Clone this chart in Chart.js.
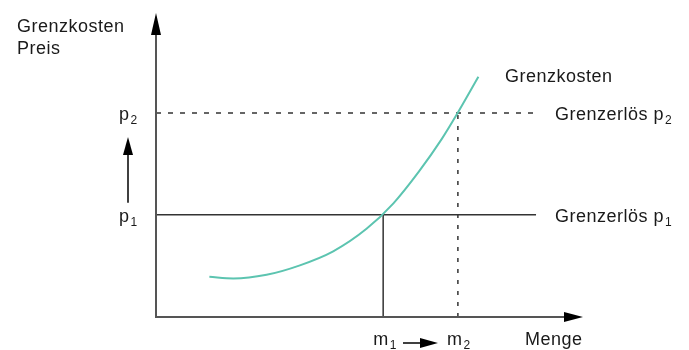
<!DOCTYPE html>
<html>
<head>
<meta charset="utf-8">
<script src="https://cdn.jsdelivr.net/npm/chart.js@4"></script>
<style>
  html, body { margin: 0; padding: 0; background: #fff; }
  #wrap { width: 689px; height: 350px; }
</style>
</head>
<body>
<div id="wrap"><canvas id="chart"></canvas></div>
<script>
// curve points (x = Menge, y = Preis, both 0..100)
const curveX = [12.5, 18.1, 25.9, 33.7, 41.5, 49.3, 55.6, 61.6, 66.9, 70.6, 75.5]
const curveY = [13.2, 12.7, 13.9, 17.0, 21.6, 29.0, 37.4, 47.9, 58.5, 67.0, 79.0]
const priceLevels = [33.6, 67.1]   // p1, p2
const quantities = [53.2, 70.7]     // m1, m2
const lineEnd = 89

const FONT = '"Liberation Sans", Arial, sans-serif'
const INK = '#1a1a1a'

function subText(ctx, main, sub, x, y, size) {
    ctx.font = `${size}px ${FONT}`
    ctx.fillText(main, x, y)
    const w = ctx.measureText(main).width
    if (sub) {
        ctx.font = `${Math.round(size * 0.65)}px ${FONT}`
        ctx.fillText(sub, x + w + 1, y + 4)
    }
}

const drawExtras = {
    id: 'extras',
    afterDraw(chart) {
        const ctx = chart.ctx
        const xs = chart.scales.x, ys = chart.scales.y
        const x0 = xs.getPixelForValue(0), y0 = ys.getPixelForValue(0)
        const xTop = xs.getPixelForValue(100), yTop = ys.getPixelForValue(100)
        ctx.save()
        // axes
        ctx.strokeStyle = '#555'
        ctx.fillStyle = '#000'
        ctx.lineWidth = 2
        ctx.beginPath()
        ctx.moveTo(x0, y0)
        ctx.lineTo(x0, yTop + 15)
        ctx.moveTo(x0 - 1, y0)
        ctx.lineTo(xTop - 15, y0)
        ctx.stroke()
        ctx.beginPath()
        ctx.moveTo(x0, yTop)
        ctx.lineTo(x0 + 5, yTop + 22)
        ctx.lineTo(x0 - 5, yTop + 22)
        ctx.closePath()
        ctx.fill()
        ctx.beginPath()
        ctx.moveTo(xTop, y0)
        ctx.lineTo(xTop - 19, y0 - 5)
        ctx.lineTo(xTop - 19, y0 + 5)
        ctx.closePath()
        ctx.fill()

        // small arrows p1 -> p2 and m1 -> m2
        const p1y = ys.getPixelForValue(priceLevels[0])
        const p2y = ys.getPixelForValue(priceLevels[1])
        ctx.lineWidth = 1.5
        ctx.strokeStyle = '#000'
        ctx.beginPath()
        ctx.moveTo(128, p1y - 12)
        ctx.lineTo(128, p2y + 35)
        ctx.stroke()
        ctx.beginPath()
        ctx.moveTo(128, p2y + 24)
        ctx.lineTo(133, p2y + 42)
        ctx.lineTo(123, p2y + 42)
        ctx.closePath()
        ctx.fill()
        const my = y0 + 26
        ctx.beginPath()
        ctx.moveTo(403, my)
        ctx.lineTo(425, my)
        ctx.stroke()
        ctx.beginPath()
        ctx.moveTo(438, my)
        ctx.lineTo(420, my - 5)
        ctx.lineTo(420, my + 5)
        ctx.closePath()
        ctx.fill()

        // texts
        ctx.fillStyle = INK
        ctx.textBaseline = 'alphabetic'
        ctx.textAlign = 'left'
        if ('letterSpacing' in ctx) ctx.letterSpacing = '0.5px'
        subText(ctx, 'Grenzkosten', '', 17, 32, 18)
        subText(ctx, 'Preis', '', 17, 54, 18)
        subText(ctx, 'Grenzkosten', '', 505, 82, 18)
        subText(ctx, 'Grenzerlös p', '2', 555, p2y + 7, 18)
        subText(ctx, 'Grenzerlös p', '1', 555, p1y + 7, 18)
        subText(ctx, 'p', '2', 119, p2y + 7, 18)
        subText(ctx, 'p', '1', 119, p1y + 7, 18)
        subText(ctx, 'm', '1', xs.getPixelForValue(quantities[0]) - 10, y0 + 28, 18)
        subText(ctx, 'm', '2', xs.getPixelForValue(quantities[1]) - 11, y0 + 28, 18)
        subText(ctx, 'Menge', '', 525, y0 + 28, 18)
        ctx.restore()
    }
}

new Chart(document.getElementById('chart'), {
    type: 'line',
    data: {
        datasets: [
            {
                label: 'Grenzkosten',
                data: curveX.map((x, i) => ({ x, y: curveY[i] })),
                borderColor: 'rgb(92, 196, 176)',
                borderWidth: 2,
                cubicInterpolationMode: 'monotone',
                pointRadius: 0
            },
            {
                label: 'Grenzerlös p1',
                data: [{ x: 0, y: priceLevels[0] }, { x: lineEnd, y: priceLevels[0] }],
                borderColor: '#333',
                borderWidth: 1.5,
                pointRadius: 0
            },
            {
                label: 'Grenzerlös p2',
                data: [{ x: 0, y: priceLevels[1] }, { x: lineEnd, y: priceLevels[1] }],
                borderColor: '#333',
                borderWidth: 1.5,
                borderDash: [5, 7],
                pointRadius: 0
            },
            {
                label: 'm1',
                data: [{ x: quantities[0], y: 0 }, { x: quantities[0], y: priceLevels[0] }],
                borderColor: '#333',
                borderWidth: 1.5,
                pointRadius: 0
            },
            {
                label: 'm2',
                data: [{ x: quantities[1], y: 0 }, { x: quantities[1], y: priceLevels[1] }],
                borderColor: '#333',
                borderWidth: 1.5,
                borderDash: [4, 7],
                pointRadius: 0
            }
        ]
    },
    options: {
        responsive: true,
        maintainAspectRatio: false,
        animation: false,
        layout: { padding: { left: 156, right: 106, top: 13, bottom: 33 } },
        plugins: { legend: { display: false }, tooltip: { enabled: false } },
        scales: {
            x: { type: 'linear', min: 0, max: 100, display: false },
            y: { type: 'linear', min: 0, max: 100, display: false }
        }
    },
    plugins: [drawExtras]
})
</script>
</body>
</html>
